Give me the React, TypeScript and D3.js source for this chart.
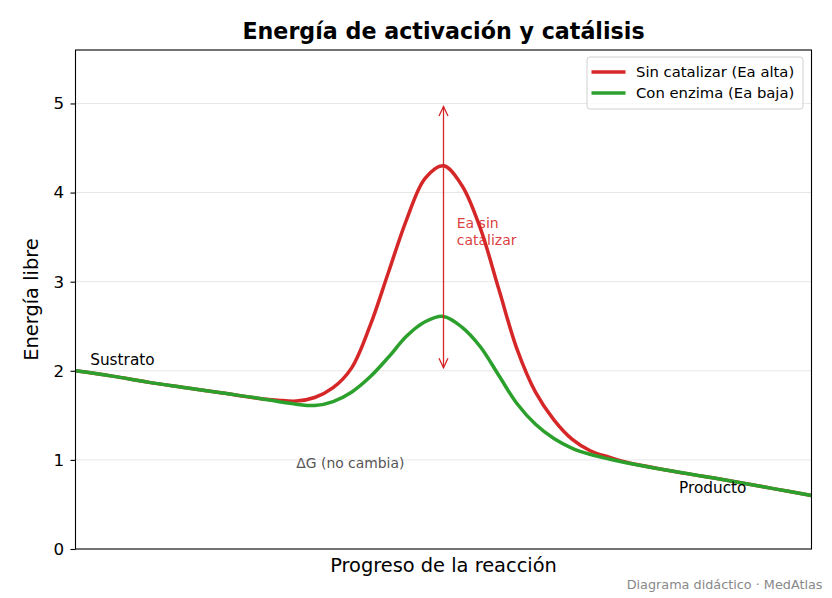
import { useEffect, useRef } from 'react';
import * as d3 from 'd3';

// Reaction progress (arbitrary units) and read-off energies for both paths
const progress = [0, 0.5, 1, 1.5, 2, 2.5, 2.75, 3, 3.25, 3.5, 3.75, 4, 4.25, 4.5, 4.75, 5,
    5.25, 5.5, 5.75, 6, 6.25, 6.5, 6.75, 7, 7.25, 7.5, 8, 8.5, 9, 9.5, 10];
const sinCatalizar = [2.0, 1.94, 1.87, 1.81, 1.75, 1.69, 1.67, 1.66, 1.7, 1.81, 2.03, 2.5, 3.1, 3.7, 4.16, 4.3,
    4.08, 3.6, 2.92, 2.24, 1.76, 1.45, 1.23, 1.1, 1.03, 0.97, 0.89, 0.82, 0.75, 0.675, 0.6];
const conEnzima = [2.0, 1.94, 1.87, 1.81, 1.75, 1.69, 1.655, 1.625, 1.61, 1.655, 1.76, 1.93, 2.15, 2.39, 2.55, 2.61,
    2.49, 2.27, 1.95, 1.63, 1.4, 1.24, 1.13, 1.06, 1.01, 0.965, 0.89, 0.82, 0.75, 0.675, 0.6];

const seriesNames = ['Sin catalizar (Ea alta)', 'Con enzima (Ea baja)'];
const seriesColors = ['#d62728', '#2ca02c'];
const yTicks = [0, 1, 2, 3, 4, 5];
const gridTicks = [1, 2, 3, 4, 5];

// Arrow for the uncatalysed activation energy: [x, yFrom, yTo]
const eaArrow = [5, 2, 5];

const App: React.FC = () => {
    const svgRef = useRef<SVGSVGElement>(null);

    useEffect(() => {
        if (!svgRef.current) return;
        d3.select(svgRef.current).selectAll('*').remove();

        const W = 832, H = 598;
        const margin = { top: 50, right: 20.5, bottom: 49, left: 75.5 };
        const width = W - margin.left - margin.right;
        const height = H - margin.top - margin.bottom;
        const font = 'DejaVu Sans, Verdana, sans-serif';

        const svg = d3.select(svgRef.current)
            .attr('width', W)
            .attr('height', H)
            .style('font-family', font);

        svg.append('rect').attr('width', W).attr('height', H).attr('fill', '#fff');

        const g = svg.append('g').attr('transform', `translate(${margin.left},${margin.top})`);

        const xScale = d3.scaleLinear().domain([0, 10]).range([0, width]);
        const yScale = d3.scaleLinear().domain([0, 5.6]).range([height, 0]);

        // grid lines
        g.append('g')
            .selectAll('line')
            .data(gridTicks)
            .join('line')
            .attr('x1', 0)
            .attr('x2', width)
            .attr('y1', d => yScale(d))
            .attr('y2', d => yScale(d))
            .attr('stroke', '#e6e6e6')
            .attr('stroke-width', 1);

        // Ea label (sits under the curve)
        const eaText = g.append('text')
            .attr('x', xScale(5.18))
            .attr('y', yScale(3.6))
            .attr('fill', '#d62728')
            .attr('fill-opacity', 0.9)
            .style('font-size', '14px');
        eaText.append('tspan').attr('x', xScale(5.18)).text('Ea sin');
        eaText.append('tspan').attr('x', xScale(5.18)).attr('dy', 16.3).text('catalizar');

        const line = d3.line<number>()
            .x((_, i) => xScale(progress[i]))
            .y(d => yScale(d))
            .curve(d3.curveCatmullRom.alpha(0.5));

        [sinCatalizar, conEnzima].forEach((s, i) => {
            g.append('path')
                .datum(s)
                .attr('d', line)
                .attr('fill', 'none')
                .attr('stroke', seriesColors[i])
                .attr('stroke-width', 3.5)
                .attr('stroke-linejoin', 'round');
        });

        // double headed arrow
        const ax = xScale(eaArrow[0]);
        const ay1 = yScale(eaArrow[1]) - 3;
        const ay2 = yScale(eaArrow[2]) + 3;
        const arrow = g.append('g')
            .attr('stroke', '#d62728')
            .attr('stroke-width', 1.3)
            .attr('fill', 'none');
        arrow.append('line').attr('x1', ax).attr('x2', ax).attr('y1', ay1).attr('y2', ay2);
        arrow.append('path').attr('d', `M${ax - 4.5},${ay2 + 9.5}L${ax},${ay2}L${ax + 4.5},${ay2 + 9.5}`);
        arrow.append('path').attr('d', `M${ax - 4.5},${ay1 - 9.5}L${ax},${ay1}L${ax + 4.5},${ay1 - 9.5}`);

        // annotations
        g.append('text')
            .attr('x', xScale(0.2))
            .attr('y', yScale(2.06))
            .style('font-size', '15.3px')
            .attr('fill', '#000')
            .text('Sustrato');

        g.append('text')
            .attr('x', xScale(8.2))
            .attr('y', yScale(0.63))
            .style('font-size', '15.3px')
            .attr('fill', '#000')
            .text('Producto');

        g.append('text')
            .attr('x', xScale(3.0))
            .attr('y', yScale(0.91))
            .style('font-size', '13.9px')
            .attr('fill', '#555')
            .text('ΔG (no cambia)');

        // y axis
        const yAxis = g.append('g')
            .call(d3.axisLeft(yScale).tickValues(yTicks).tickFormat(d3.format('d')).tickSize(5).tickPadding(6.5));
        yAxis.select('.domain').remove();
        yAxis.selectAll('.tick line').attr('stroke', '#000').attr('stroke-width', 1.1);
        yAxis.selectAll('.tick text')
            .style('font-size', '16.7px')
            .style('font-family', font)
            .attr('fill', '#000');

        // frame
        g.append('rect')
            .attr('width', width)
            .attr('height', height)
            .attr('fill', 'none')
            .attr('stroke', '#000')
            .attr('stroke-width', 1.1);

        // legend
        const legend = g.append('g').attr('transform', `translate(${587 - margin.left},${57 - margin.top})`);
        legend.append('rect')
            .attr('width', 216)
            .attr('height', 52)
            .attr('rx', 3)
            .attr('fill', '#fff')
            .attr('fill-opacity', 0.8)
            .attr('stroke', '#d0d0d0')
            .attr('stroke-width', 1);
        seriesNames.forEach((name, i) => {
            const ly = 15 + i * 21;
            legend.append('line')
                .attr('x1', 4.5).attr('x2', 38.5)
                .attr('y1', ly).attr('y2', ly)
                .attr('stroke', seriesColors[i])
                .attr('stroke-width', 3.5);
            legend.append('text')
                .attr('x', 49)
                .attr('y', ly + 5.2)
                .style('font-size', '14.8px')
                .attr('fill', '#000')
                .text(name);
        });

        // titles
        svg.append('text')
            .attr('x', margin.left + width / 2)
            .attr('y', 39.3)
            .attr('text-anchor', 'middle')
            .style('font-size', '22.2px')
            .style('font-weight', 'bold')
            .text('Energía de activación y catálisis');

        svg.append('text')
            .attr('x', margin.left + width / 2)
            .attr('y', 572)
            .attr('text-anchor', 'middle')
            .style('font-size', '19.4px')
            .text('Progreso de la reacción');

        svg.append('text')
            .attr('transform', `translate(38,${margin.top + height / 2}) rotate(-90)`)
            .attr('text-anchor', 'middle')
            .style('font-size', '19.4px')
            .text('Energía libre');

        svg.append('text')
            .attr('x', 822.5)
            .attr('y', 589)
            .attr('text-anchor', 'end')
            .attr('fill', '#888')
            .style('font-size', '12.8px')
            .text('Diagrama didáctico · MedAtlas');
    }, []);

    return (
        <svg ref={svgRef} style={{ position: 'absolute', left: 0, top: 0, display: 'block' }}></svg>
    );
};

export default App;
